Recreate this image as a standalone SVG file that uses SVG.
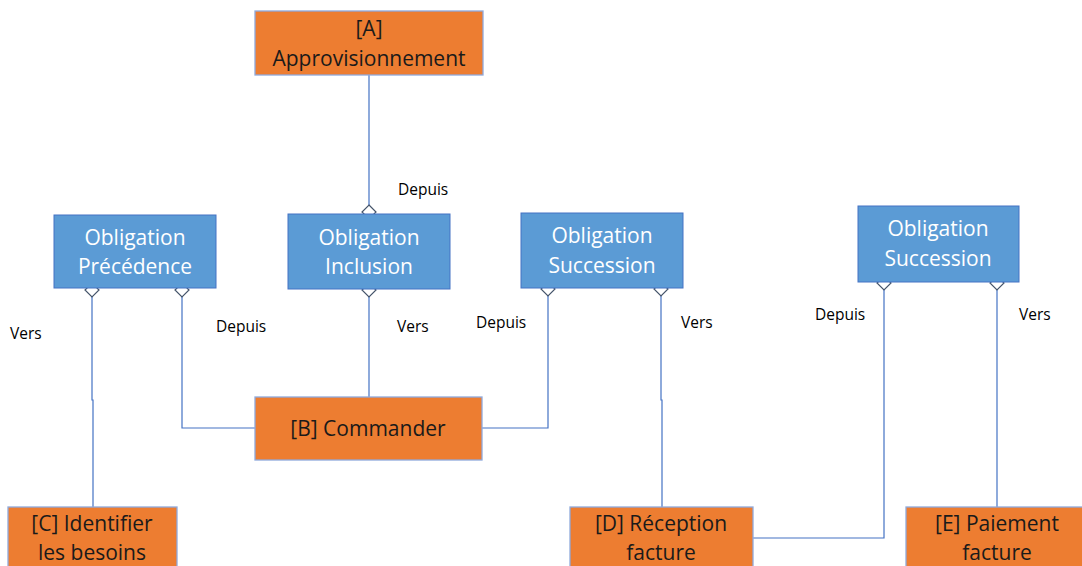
<svg xmlns="http://www.w3.org/2000/svg" width="1082" height="566" viewBox="0 0 1082 566">
<style>
.org{fill:#ED7D31;stroke:#8FAADC;stroke-width:1.3}
.blu{fill:#5B9BD5;stroke:#4472C4;stroke-width:1}
.tk{font-family:"Open Sans","Liberation Sans",sans-serif;font-size:21px;fill:#1a1a1a;text-anchor:middle}
.tw{font-family:"Open Sans","Liberation Sans",sans-serif;font-size:21px;fill:#ffffff;text-anchor:middle}
.lb{font-family:"Open Sans","Liberation Sans",sans-serif;font-size:15.5px;fill:#000000}
.ln{fill:none;stroke:#4472C4;stroke-width:1.2}
.dm{fill:#ffffff;stroke:#44546A;stroke-width:1.2}
</style>
<rect width="1082" height="566" fill="#ffffff"/>
<g id="connectors">
<path class="ln" d="M369,75 V212"/>
<path class="ln" d="M92,290 V400 H93 V507"/>
<path class="ln" d="M182,290 V428 H255"/>
<path class="ln" d="M369,290 V397"/>
<path class="ln" d="M482,428 H548 V289"/>
<path class="ln" d="M661,289 V400 H662 V507"/>
<path class="ln" d="M753,538 H884 V283"/>
<path class="ln" d="M997,283 V507"/>
<path class="dm" d="M369,205 l7,7 l-7,7 l-7,-7 z"/>
<path class="dm" d="M92,283 l7,7 l-7,7 l-7,-7 z"/>
<path class="dm" d="M182,283 l7,7 l-7,7 l-7,-7 z"/>
<path class="dm" d="M369,283 l7,7 l-7,7 l-7,-7 z"/>
<path class="dm" d="M548,282 l7,7 l-7,7 l-7,-7 z"/>
<path class="dm" d="M661,282 l7,7 l-7,7 l-7,-7 z"/>
<path class="dm" d="M884,276 l7,7 l-7,7 l-7,-7 z"/>
<path class="dm" d="M997,276 l7,7 l-7,7 l-7,-7 z"/>
<text class="lb" x="398" y="195">Depuis</text>
<text class="lb" x="10" y="339">Vers</text>
<text class="lb" x="216" y="332">Depuis</text>
<text class="lb" x="397" y="332">Vers</text>
<text class="lb" x="476" y="328">Depuis</text>
<text class="lb" x="681" y="328">Vers</text>
<text class="lb" x="815" y="320">Depuis</text>
<text class="lb" x="1019" y="320">Vers</text>
</g>
<g id="A">
<rect class="org" x="255" y="11" width="228" height="64"/>
<text class="tk" x="369" y="36">[A]</text>
<text class="tk" x="369" y="66">Approvisionnement</text>
</g>
<g id="precedence">
<rect class="blu" x="54" y="215" width="162" height="73"/>
<text class="tw" x="135" y="245">Obligation</text>
<text class="tw" x="135" y="274">Précédence</text>
</g>
<g id="inclusion">
<rect class="blu" x="288" y="214" width="162" height="75"/>
<text class="tw" x="369" y="245">Obligation</text>
<text class="tw" x="369" y="274">Inclusion</text>
</g>
<g id="succession1">
<rect class="blu" x="521" y="213" width="162" height="75"/>
<text class="tw" x="602" y="243">Obligation</text>
<text class="tw" x="602" y="273">Succession</text>
</g>
<g id="succession2">
<rect class="blu" x="858" y="206" width="161" height="76"/>
<text class="tw" x="938" y="236">Obligation</text>
<text class="tw" x="938" y="266">Succession</text>
</g>
<g id="B">
<rect class="org" x="255" y="397" width="227" height="63"/>
<text class="tk" x="368" y="436">[B] Commander</text>
</g>
<g id="C">
<rect class="org" x="8" y="507" width="169" height="70"/>
<text class="tk" x="92" y="531">[C] Identifier</text>
<text class="tk" x="92" y="560">les besoins</text>
</g>
<g id="D">
<rect class="org" x="570" y="507" width="183" height="70"/>
<text class="tk" x="661" y="531">[D] Réception</text>
<text class="tk" x="661" y="560">facture</text>
</g>
<g id="E">
<rect class="org" x="906" y="507" width="190" height="70"/>
<text class="tk" x="997" y="531">[E] Paiement</text>
<text class="tk" x="997" y="560">facture</text>
</g>
</svg>
